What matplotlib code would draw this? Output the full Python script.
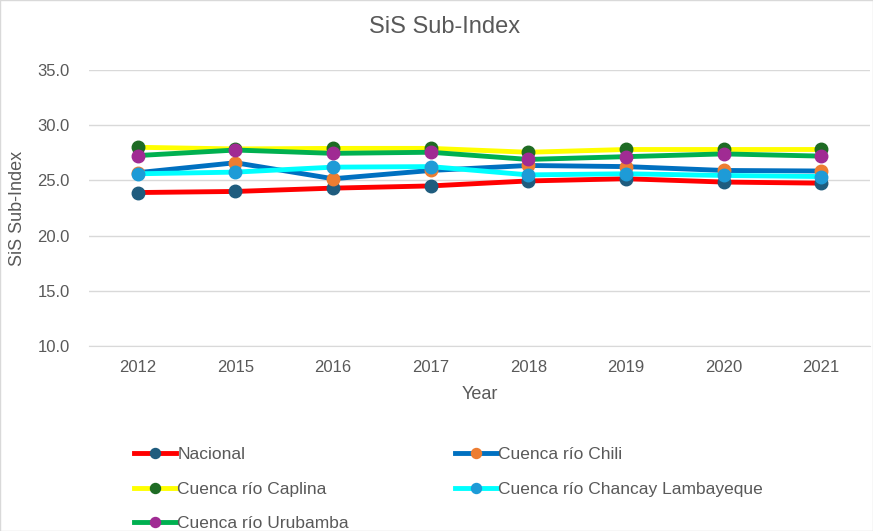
import matplotlib
matplotlib.use("Agg")
import matplotlib.pyplot as plt
from matplotlib import font_manager as fm

names = {f.name for f in fm.fontManager.ttflist}
fam = ['Liberation Sans Narrow', 'DejaVu Sans'] if 'Liberation Sans Narrow' in names else ['Liberation Sans', 'DejaVu Sans']
plt.rcParams['font.family'] = fam

years = ['2012', '2015', '2016', '2017', '2018', '2019', '2020', '2021']
nacional = [23.9, 24.0, 24.3, 24.5, 24.95, 25.15, 24.85, 24.75]
chili = [25.7, 26.6, 25.15, 25.9, 26.35, 26.25, 25.9, 25.85]
caplina = [28.0, 27.85, 27.9, 27.9, 27.55, 27.8, 27.8, 27.8]
chancay = [25.6, 25.75, 26.2, 26.25, 25.5, 25.6, 25.45, 25.35]
urubamba = [27.25, 27.75, 27.45, 27.55, 26.9, 27.15, 27.4, 27.2]

series = [
    ('Nacional', nacional, '#FF0000', '#1F5C7E'),
    ('Cuenca río Chili', chili, '#0070C0', '#ED7D31'),
    ('Cuenca río Caplina', caplina, '#FFFF00', '#1E6B24'),
    ('Cuenca río Chancay Lambayeque', chancay, '#00FFFF', '#1E9BD7'),
    ('Cuenca río Urubamba', urubamba, '#00B050', '#A02B93'),
]

txt = '#595959'
fig = plt.figure(figsize=(8.73, 5.31), dpi=100)
ax = fig.add_axes([89/873, 1-346/531, (870-89)/873, (346-70)/531])
x = list(range(len(years)))
handles = []
for name, vals, lc, mc in series:
    h, = ax.plot(x, vals, color=lc, lw=3.5, marker='o', ms=9, mfc=mc, mec=mc, label=name)
    handles.append(h)

ax.set_ylim(10, 35)
ax.set_yticks([10, 15, 20, 25, 30, 35])
ax.set_yticklabels([f'{v:.1f}' for v in [10, 15, 20, 25, 30, 35]])
ax.set_xlim(-0.5, len(years) - 0.5)
ax.set_xticks(x)
ax.set_xticklabels(years)
ax.grid(axis='y', color='#D9D9D9', lw=1)
ax.set_axisbelow(True)
for s in ['top', 'right', 'left']:
    ax.spines[s].set_visible(False)
ax.spines['bottom'].set_color('#D9D9D9')
ax.tick_params(axis='both', length=0, colors=txt, labelsize=12, pad=10)
ax.tick_params(axis='y', pad=14)
ax.set_xlabel('Year', color=txt, fontsize=13, labelpad=8)
ax.set_ylabel('SiS Sub-Index', color=txt, fontsize=13)
ax.yaxis.set_label_coords((26-89)/781, 0.5)
fig.text(445/873, 1-27/531, 'SiS Sub-Index', ha='center', va='center', color=txt, fontsize=17)

order = [0, 2, 4, 1, 3]
fig.legend([handles[i] for i in order], [series[i][0] for i in order],
           loc='upper left', bbox_to_anchor=(127/873, 1-440/531), ncol=2, frameon=False,
           fontsize=12.5, labelcolor=txt, handlelength=2.4, handletextpad=0.1,
           columnspacing=6.1, labelspacing=1.12, markerscale=0.8, borderaxespad=0)
fig.patches.append(plt.Rectangle((0, 0), 1, 1, transform=fig.transFigure, fill=False, ec='#D9D9D9', lw=1))
fig.savefig('out.png', dpi=100)
